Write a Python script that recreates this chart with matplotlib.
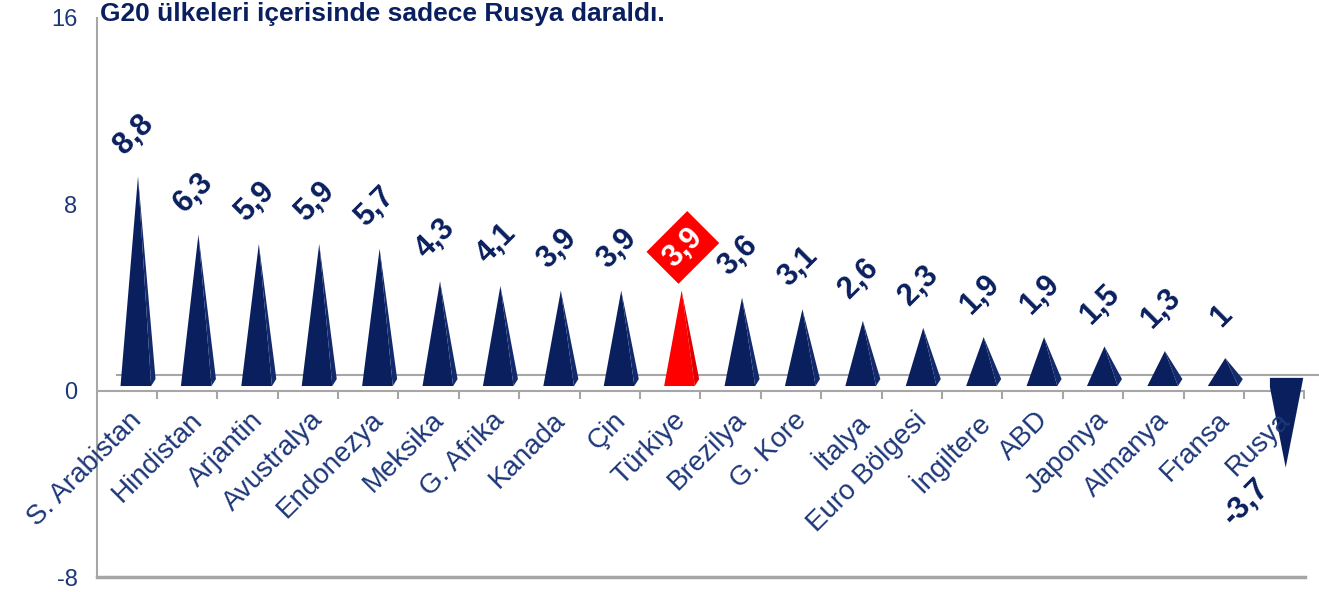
import numpy as np
import matplotlib.pyplot as plt
from matplotlib.patches import Polygon

plt.rcParams['font.family'] = ['Liberation Sans', 'DejaVu Sans']

# data
countries = ['S. Arabistan', 'Hindistan', 'Arjantin', 'Avustralya', 'Endonezya',
             'Meksika', 'G. Afrika', 'Kanada', 'Çin', 'Türkiye', 'Brezilya',
             'G. Kore', 'İtalya', 'Euro Bölgesi', 'İngiltere', 'ABD', 'Japonya',
             'Almanya', 'Fransa', 'Rusya']
growth = [8.8, 6.3, 5.9, 5.9, 5.7, 4.3, 4.1, 3.9, 3.9, 3.9, 3.6, 3.1, 2.6, 2.3,
          1.9, 1.9, 1.5, 1.3, 1.0, -3.7]
value_labels = ['8,8', '6,3', '5,9', '5,9', '5,7', '4,3', '4,1', '3,9', '3,9', '3,9',
                '3,6', '3,1', '2,6', '2,3', '1,9', '1,9', '1,5', '1,3', '1', '-3,7']
highlight = 'Türkiye'
title = 'G20 ülkeleri içerisinde sadece Rusya daraldı.'
yticks = [-8, 0, 8, 16]
ytick_labels = ['-8', '0', '8', '16']

navy = '#0a1f5e'
navy_side = '#132a6c'
red = '#ff0000'
red_side = '#e00000'
text_col = '#1d3778'
grey = '#a6a6a6'

fig = plt.figure(figsize=(13.19, 5.92), dpi=100)
ax = fig.add_axes([0.0735, 0.0253, 0.9159, 0.9443])

n = len(countries)
x = np.arange(n)
hw = 0.29      # half width of the pyramid base
lift = 0.2     # 3d floor offset
tip = 0.4

for i, v in enumerate(growth):
    c = red if countries[i] == highlight else navy
    cs = red_side if countries[i] == highlight else navy_side
    if v >= 0:
        ax.add_patch(Polygon([(i - hw, lift), (i, v + tip), (i + hw * 0.75, lift)],
                             closed=True, fc=c, ec='none', zorder=3))
        ax.add_patch(Polygon([(i, v + tip), (i + hw * 0.75, lift), (i + hw, lift + 0.3)],
                             closed=True, fc=cs, ec='none', zorder=3))
    else:
        top = 0.55
        ax.add_patch(Polygon([(i - hw * 0.9, top), (i + hw, top), (i + hw * 0.9, top - 0.4),
                              (i, v + tip), (i - hw * 0.9, top - 0.4)],
                             closed=True, fc=c, ec='none', zorder=3))
        ax.add_patch(Polygon([(i + hw * 0.9, top - 0.4), (i + hw, top), (i, v + tip)],
                             closed=True, fc=cs, ec='none', zorder=3))

# value labels
for i, (v, lab) in enumerate(zip(growth, value_labels)):
    if v >= 0:
        if countries[i] == highlight:
            ax.text(i + 0.02, v + 2.25, lab, rotation=45, ha='center', va='center',
                    rotation_mode='anchor', fontsize=22, fontweight='bold', color='white',
                    bbox=dict(boxstyle='square,pad=0.25', fc=red, ec='none'), zorder=5)
        else:
            ax.text(i - 0.07, v + 2.2, lab, rotation=45, ha='center', va='center',
                    rotation_mode='anchor', fontsize=22, fontweight='bold', color=navy,
                    zorder=5)
    else:
        ax.text(i - 0.65, v - 1.1, lab, rotation=45, ha='center', va='center',
                rotation_mode='anchor', fontsize=22, fontweight='bold', color=navy,
                zorder=5)

# category labels
for i, name in enumerate(countries):
    ax.text(i - 0.15, -0.7, name, rotation=45, ha='right', va='top',
            rotation_mode='anchor', fontsize=20, color=text_col)

# zero line, floor line and small ticks
ax.axhline(0, color=grey, lw=1.5, zorder=2)
ax.plot([-0.34, n - 0.38], [0.69, 0.69], color=grey, lw=1.5, zorder=1, clip_on=False)
ax.vlines(x + 0.31, -0.35, 0, color=grey, lw=1.5)

ax.set_xlim(-0.68, n - 0.68)
ax.set_ylim(-8, 16)
ax.set_yticks(yticks)
ax.set_yticklabels(ytick_labels)
ax.set_xticks([])
ax.tick_params(axis='y', length=0, pad=14, labelsize=17, labelcolor=text_col)
for s in ['top', 'right']:
    ax.spines[s].set_visible(False)
ax.spines['left'].set_color(grey)
ax.spines['left'].set_linewidth(1.5)
ax.spines['bottom'].set_color(grey)
ax.spines['bottom'].set_linewidth(2.5)

fig.text(0.076, 1 - 21 / 592, title, fontsize=19, fontweight='bold', color=navy,
         va='baseline', ha='left')

fig.savefig('out.png', dpi=100)
